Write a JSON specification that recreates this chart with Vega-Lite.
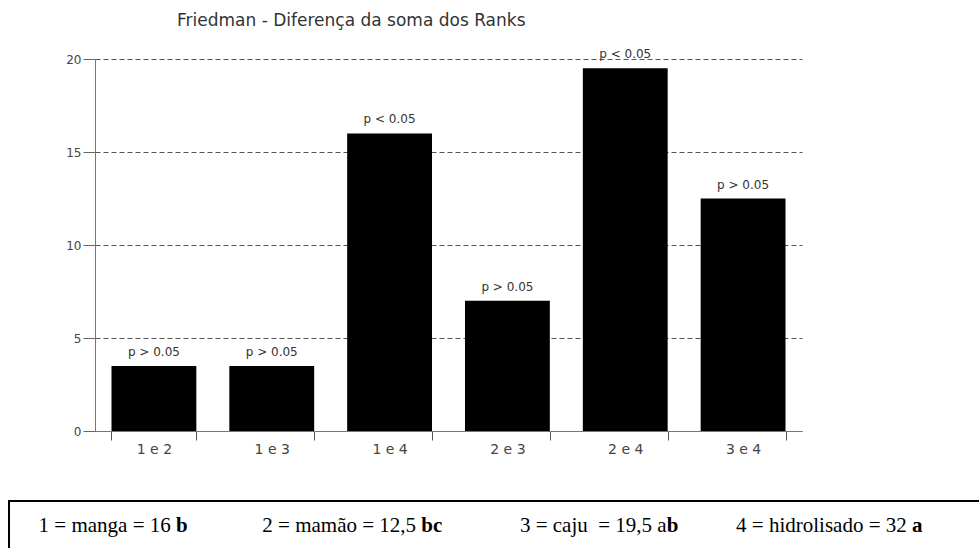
{
  "$schema": "https://vega.github.io/schema/vega-lite/v6.json",
  "background": "white",
  "padding": {"left": 8, "top": 12, "right": 0, "bottom": 0},
  "config": {"font": "DejaVu Sans", "view": {"stroke": null}},
  "datasets": {
    "bars": [
      {"par": "1 e 2", "diff": 3.5, "p": "p > 0.05"},
      {"par": "1 e 3", "diff": 3.5, "p": "p > 0.05"},
      {"par": "1 e 4", "diff": 16, "p": "p < 0.05"},
      {"par": "2 e 3", "diff": 7, "p": "p > 0.05"},
      {"par": "2 e 4", "diff": 19.5, "p": "p < 0.05"},
      {"par": "3 e 4", "diff": 12.5, "p": "p > 0.05"}
    ],
    "legend": [
      {"id": 1, "regular": "1 = manga = 16\u00a0\u2060", "bold": "b"},
      {"id": 2, "regular": "2 = mamão = 12,5\u00a0\u2060", "bold": "bc"},
      {"id": 3, "regular": "3 = caju\u00a0 = 19,5 a", "bold": "b"},
      {"id": 4, "regular": "4 = hidrolisado = 32\u00a0\u2060", "bold": "a"}
    ]
  },
  "spacing": 44,
  "vconcat": [
    {
      "width": 793,
      "height": 372,
      "title": {"text": "Friedman - Diferença da soma dos Ranks", "anchor": "start", "dx": 168, "fontSize": 17, "fontWeight": "normal", "color": "#333", "offset": 18, "font": "DejaVu Sans"},
      "data": {"name": "bars"},
      "encoding": {
        "x": {
          "field": "par", "type": "nominal", "sort": null,
          "scale": {"range": [86, 793], "paddingInner": 0.28, "paddingOuter": 0.14},
          "axis": {"title": null, "labelAngle": 0, "tickBand": "extent", "tickSize": 9, "tickColor": "#555", "domainColor": "#777", "labelFontSize": 14, "labelColor": "#444", "labelPadding": 2, "grid": false, "labelFont": "DejaVu Sans"}
        },
        "y": {
          "field": "diff", "type": "quantitative",
          "scale": {"domain": [0, 20], "nice": false},
          "axis": {"title": null, "offset": -86, "values": [0, 5, 10, 15, 20], "grid": true, "gridDash": [5, 3], "gridColor": "#555", "gridOpacity": 1, "domainColor": "#777", "tickColor": "#666", "tickSize": 12, "labelPadding": 2, "labelFontSize": 12, "labelColor": "#444", "labelFont": "DejaVu Sans"}
        }
      },
      "layer": [
        {"mark": {"type": "bar", "color": "black"}},
        {"mark": {"type": "text", "baseline": "bottom", "dy": -7, "fontSize": 12, "color": "#333", "font": "DejaVu Sans"}, "encoding": {"text": {"field": "p"}}}
      ]
    },
    {
      "width": 975,
      "height": 50,
      "view": {"stroke": "black", "strokeWidth": 2},
      "data": {"name": "legend"},
      "encoding": {
        "x": {"field": "id", "type": "ordinal", "scale": {"type": "point", "range": [167, 903], "padding": 0}, "axis": null}
      },
      "layer": [
        {"mark": {"type": "text", "align": "right", "baseline": "middle", "font": "Liberation Serif", "fontSize": 21, "color": "black"}, "encoding": {"text": {"field": "regular"}}},
        {"mark": {"type": "text", "align": "left", "baseline": "middle", "font": "Liberation Serif", "fontSize": 21, "fontWeight": "bold", "color": "black"}, "encoding": {"text": {"field": "bold"}}}
      ]
    }
  ]
}
